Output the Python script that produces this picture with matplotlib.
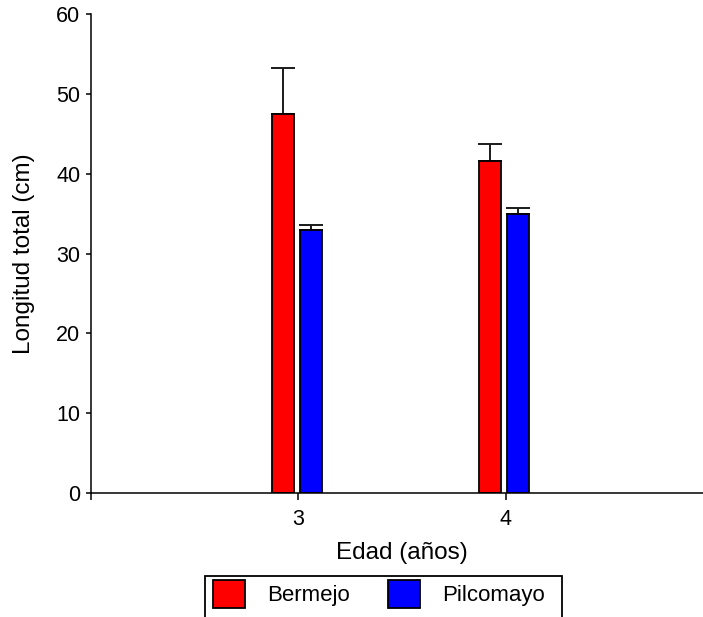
import matplotlib
matplotlib.use("Agg")
import matplotlib.pyplot as plt
from matplotlib.patches import Rectangle
import numpy as np

plt.rcParams['font.family'] = ['Liberation Sans', 'DejaVu Sans']

# Data
ages = [3, 4]
age_labels = ['3', '4']
series_names = ['Bermejo', 'Pilcomayo']
bermejo = [47.5, 41.6]
bermejo_err = [5.75, 2.1]
pilcomayo = [33.0, 34.9]
pilcomayo_err = [0.6, 0.8]
yticks = [0, 10, 20, 30, 40, 50, 60]

colors = ['#ff0000', '#0000ff']

W, H = 703, 617
fig = plt.figure(figsize=(W / 100, H / 100), dpi=100)
ax = fig.add_axes([91 / W, 1 - 493 / H, 3 * 207.3 / W, (493 - 14) / H])

x = np.array(ages, dtype=float)
bw = 0.104
offsets = [-0.074, 0.061]
for vals, errs, off, col, name in zip([bermejo, pilcomayo], [bermejo_err, pilcomayo_err],
                                      offsets, colors, series_names):
    ax.bar(x + off, vals, width=bw, color=col, edgecolor='black', linewidth=1.3,
           label=name, zorder=2)
    ax.errorbar(x + off, vals, yerr=[np.zeros(len(errs)), errs], fmt='none',
                ecolor='#1a1a1a', elinewidth=1.4, capsize=8.3, capthick=1.4, zorder=1)

ax.set_xlim(2, 5)
ax.set_ylim(0, 60)
ax.set_yticks(yticks)
ax.set_xticks(ages)
ax.set_xticklabels(age_labels)
ax.set_xticks([2], minor=True)

for s in ['top', 'right']:
    ax.spines[s].set_visible(False)
for s in ['left', 'bottom']:
    ax.spines[s].set_linewidth(1.1)
    ax.spines[s].set_color('black')

ax.tick_params(axis='y', direction='out', length=3.8, width=1.1, pad=4.0, labelsize=15.5)
ax.tick_params(axis='x', which='both', direction='out', length=5, width=1.1, pad=6.5, labelsize=15.5)

ax.set_xlabel('Edad (años)', fontsize=17.5, labelpad=9)
ax.set_ylabel('Longitud total (cm)', fontsize=17.5, labelpad=15)

# Legend (box bottom extends below figure)
handles, labels = ax.get_legend_handles_labels()
leg = fig.legend(handles, labels, loc='upper left',
                 bbox_to_anchor=(213 / W, 1 - 580 / H), ncol=2, frameon=False,
                 fontsize=16, borderpad=0, borderaxespad=0,
                 handlelength=1.42, handleheight=1.55, handletextpad=1.0,
                 columnspacing=1.75)
box = Rectangle((205 / W, -0.1), (562 - 205) / W, (1 - 576 / H) + 0.1,
                transform=fig.transFigure, fill=False, edgecolor='black',
                linewidth=1.3)
fig.patches.append(box)

fig.savefig('out.png', dpi=100)
